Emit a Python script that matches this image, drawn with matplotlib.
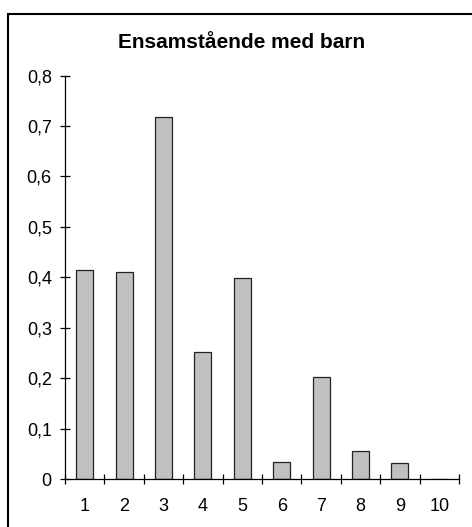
import matplotlib.pyplot as plt
from matplotlib.ticker import FuncFormatter, FixedLocator
from matplotlib.patches import Rectangle

plt.rcParams['font.family'] = ['Liberation Sans', 'DejaVu Sans']

# data
categories = [1, 2, 3, 4, 5, 6, 7, 8, 9, 10]
values = [0.415, 0.411, 0.717, 0.252, 0.399, 0.033, 0.202, 0.055, 0.031, 0.0]
yticks = [0, 0.1, 0.2, 0.3, 0.4, 0.5, 0.6, 0.7, 0.8]
title = "Ensamstående med barn"

fig = plt.figure(figsize=(4.72, 5.27), dpi=100)
ax = fig.add_axes([65 / 472, 1 - 479 / 527, (459 - 65) / 472, (479 - 75.6) / 527])

ax.bar(categories, values, width=0.43, color='#c0c0c0', edgecolor='#222222', linewidth=0.9)

ax.set_xlim(0.5, 10.5)
ax.set_ylim(0, 0.8)
ax.spines['top'].set_visible(False)
ax.spines['right'].set_visible(False)
ax.spines['left'].set_linewidth(0.9)
ax.spines['bottom'].set_linewidth(0.9)

# ticks at the category boundaries, labels in the middle
ax.xaxis.set_major_locator(FixedLocator([c - 0.5 for c in categories] + [categories[-1] + 0.5]))
ax.xaxis.set_minor_locator(FixedLocator(categories))
ax.xaxis.set_major_formatter(FuncFormatter(lambda v, p: ''))
ax.xaxis.set_minor_formatter(FuncFormatter(lambda v, p: f'{int(round(v))}'))
ax.tick_params(axis='x', which='major', direction='inout', length=7, width=0.9)
ax.tick_params(axis='x', which='minor', length=0, pad=14, labelsize=13)

ax.set_yticks(yticks)
ax.yaxis.set_major_formatter(FuncFormatter(lambda v, p: ('%g' % v).replace('.', ',')))
ax.tick_params(axis='y', direction='inout', length=7, width=0.9, pad=6, labelsize=13)

fig.text(242 / 472, 1 - 47.7 / 527, title, ha='center', va='baseline', fontsize=15, fontweight='bold')

# outer chart frame (cut off at right and bottom)
fig.patches.append(Rectangle((8 / 472, -0.1), 1.2, 1 - 13.5 / 527 + 0.1, transform=fig.transFigure,
                             fill=False, edgecolor='black', linewidth=1.5))

fig.savefig('out.png', dpi=100)
